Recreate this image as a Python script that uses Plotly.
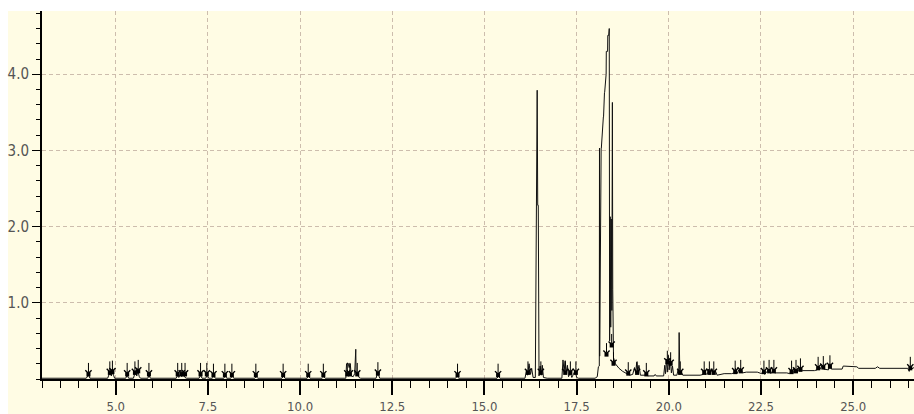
import plotly.graph_objects as go

# ---- chromatogram trace (time in min, signal) ----
time_min = [
    3.00, 4.20, 4.24, 4.27, 4.30, 4.78, 4.82, 4.85, 4.88, 4.91, 4.94, 4.97,
    5.27, 5.31, 5.35, 5.48, 5.51, 5.54, 5.57, 5.60, 5.64, 5.67, 5.87, 5.90, 5.94,
    6.64, 6.68, 6.71, 6.75, 6.79, 6.84, 6.88, 6.92, 7.26, 7.30, 7.34, 7.44, 7.48,
    7.52, 7.62, 7.66, 7.70, 7.93, 7.97, 8.01, 8.12, 8.16, 8.20, 8.77, 8.81, 8.85,
    9.51, 9.55, 9.59, 10.19, 10.23, 10.27, 10.60, 10.64, 10.68, 11.24, 11.26,
    11.30, 11.33, 11.36, 11.39, 11.44, 11.48, 11.51, 11.52, 11.56, 11.60, 11.64,
    12.06, 12.09, 12.13, 12.16, 14.22, 14.26, 14.30, 15.34, 15.38, 15.42,
    16.10, 16.14, 16.17, 16.21, 16.25, 16.28, 16.32, 16.38, 16.405, 16.41, 16.43,
    16.445, 16.46, 16.48, 16.51, 16.54, 16.57, 16.60, 16.70, 17.10, 17.13, 17.16,
    17.19, 17.22, 17.25, 17.28, 17.33, 17.37, 17.42, 17.46, 17.50, 17.55, 18.00,
    18.06, 18.09, 18.115, 18.12, 18.125, 18.165, 18.17, 18.225, 18.23, 18.255,
    18.26, 18.30, 18.305, 18.34, 18.345, 18.37, 18.375, 18.385, 18.395, 18.41,
    18.425, 18.44, 18.455, 18.47, 18.48, 18.50, 18.55, 18.65, 18.75, 18.86,
    18.90, 18.94, 19.02, 19.07, 19.10, 19.13, 19.16, 19.19, 19.23, 19.35, 19.39,
    19.43, 19.60, 19.63, 19.66, 19.86, 19.89, 19.91, 19.94, 19.96, 19.99, 20.01,
    20.04, 20.07, 20.10, 20.13, 20.22, 20.25, 20.27, 20.28, 20.30, 20.33, 20.38,
    20.85, 20.93, 20.96, 20.99, 21.05, 21.08, 21.11, 21.16, 21.20, 21.26, 21.31,
    21.50, 21.70, 21.78, 21.81, 21.85, 21.90, 21.95, 22.00, 22.10, 22.40, 22.52,
    22.56, 22.60, 22.68, 22.72, 22.77, 22.83, 22.87, 23.20, 23.28, 23.32, 23.36,
    23.42, 23.46, 23.53, 23.57, 23.62, 23.95, 24.02, 24.05, 24.09, 24.16, 24.20,
    24.33, 24.37, 24.41, 24.70, 24.73, 25.10, 25.15, 25.60, 25.66, 25.72, 26.48,
    26.52, 26.55, 26.58, 26.65,
]
signal = [
    0.01, 0.01, 0.04, 0.05, 0.01, 0.01, 0.06, 0.08, 0.04, 0.09, 0.05, 0.01,
    0.01, 0.05, 0.01, 0.01, 0.06, 0.09, 0.04, 0.10, 0.03, 0.01, 0.01, 0.05, 0.01,
    0.01, 0.05, 0.02, 0.06, 0.03, 0.06, 0.02, 0.01, 0.01, 0.05, 0.01, 0.01, 0.05,
    0.01, 0.01, 0.04, 0.01, 0.01, 0.04, 0.01, 0.01, 0.04, 0.01, 0.01, 0.03, 0.01,
    0.01, 0.04, 0.01, 0.01, 0.04, 0.01, 0.01, 0.03, 0.01, 0.01, 0.20,
    0.21, 0.15, 0.20, 0.04, 0.03, 0.07, 0.39, 0.06, 0.07, 0.02, 0.01,
    0.01, 0.06, 0.05, 0.01, 0.01, 0.04, 0.01, 0.01, 0.04, 0.01,
    0.01, 0.12, 0.05, 0.20, 0.06, 0.14, 0.02, 0.02, 3.03, 2.20, 3.79,
    2.28, 2.28, 0.04, 0.17, 0.05, 0.18, 0.02, 0.01, 0.01, 0.25, 0.10,
    0.24, 0.08, 0.18, 0.03, 0.08, 0.02, 0.06, 0.11, 0.02, 0.01, 0.01,
    0.03, 0.16, 0.17, 3.03, 0.30, 3.03, 3.03, 3.44, 3.44, 3.76,
    3.76, 4.00, 4.30, 4.30, 4.51, 4.51, 4.60, 4.60, 0.50, 2.13,
    0.68, 2.10, 0.90, 3.63, 1.17, 0.28, 0.20, 0.14, 0.10, 0.07,
    0.09, 0.05, 0.06, 0.15, 0.08, 0.22, 0.10, 0.18, 0.05, 0.05, 0.08,
    0.04, 0.04, 0.06, 0.04, 0.04, 0.18, 0.07, 0.26, 0.09, 0.31, 0.12,
    0.27, 0.08, 0.17, 0.05, 0.05, 0.12, 0.06, 0.61, 0.06, 0.10, 0.05,
    0.05, 0.06, 0.12, 0.06, 0.07, 0.13, 0.06, 0.12, 0.06, 0.11, 0.05,
    0.07, 0.07, 0.08, 0.14, 0.07, 0.12, 0.14, 0.08, 0.09, 0.09, 0.07,
    0.12, 0.06, 0.11, 0.13, 0.07, 0.12, 0.08, 0.08, 0.07, 0.12, 0.07,
    0.13, 0.08, 0.12, 0.15, 0.11, 0.11, 0.12, 0.17, 0.12, 0.18, 0.13,
    0.12, 0.20, 0.13, 0.13, 0.17, 0.16, 0.14, 0.14, 0.16, 0.14, 0.14,
    0.10, 0.16, 0.13, 0.15,
]

# ---- detected peak markers (arrow tips) ----
peak_x = [4.26, 4.84, 4.91, 5.31, 5.52, 5.61, 5.90, 6.68, 6.79, 6.88, 7.30, 7.47,
          7.65, 7.96, 8.15, 8.80, 9.54, 10.22, 10.63, 11.28, 11.35, 11.55, 12.11,
          14.27, 15.37, 16.18, 16.53, 17.19, 17.33, 17.48, 18.31, 18.45, 18.50,
          18.90, 19.14, 19.39, 19.96, 20.05, 20.31, 20.96, 21.10, 21.22, 21.80,
          21.95, 22.58, 22.72, 22.85, 23.33, 23.45, 23.57, 24.05, 24.19, 24.37,
          26.55]
peak_y = [0.06, 0.08, 0.09, 0.06, 0.08, 0.10, 0.06, 0.06, 0.06, 0.06, 0.06, 0.06,
          0.05, 0.05, 0.05, 0.05, 0.05, 0.05, 0.05, 0.06, 0.06, 0.06, 0.07,
          0.05, 0.05, 0.08, 0.08, 0.08, 0.08, 0.08, 0.32, 0.44, 0.20,
          0.07, 0.08, 0.06, 0.22, 0.20, 0.08, 0.08, 0.08, 0.08, 0.09,
          0.10, 0.09, 0.10, 0.10, 0.09, 0.10, 0.12, 0.14, 0.15, 0.16,
          0.14]

x_tick_vals = [5.0, 7.5, 10.0, 12.5, 15.0, 17.5, 20.0, 22.5, 25.0]
x_tick_text = ["5.0", "7.5", "10.0", "12.5", "15.0", "17.5", "20.0", "22.5", "25.0"]
y_tick_vals = [1.0, 2.0, 3.0, 4.0]
y_tick_text = ["1.0", "2.0", "3.0", "4.0"]

CREAM = "#FFFCE4"
GRID = "#CDBDAD"
LABEL = "#555555"
FONT = "Liberation Sans Narrow, DejaVu Sans Condensed, Liberation Sans, sans-serif"

fig = go.Figure()
fig.add_trace(go.Scatter(
    x=time_min, y=signal, mode="lines",
    line=dict(color="#111111", width=1), hoverinfo="skip", showlegend=False,
))
fig.add_trace(go.Scatter(
    x=peak_x, y=peak_y, mode="markers",
    marker=dict(symbol="square", size=4, color="black"),
    hoverinfo="skip", showlegend=False,
))

annotations = [
    dict(x=px, y=py, xref="x", yref="y", ax=0, ay=-13, axref="pixel", ayref="pixel",
         showarrow=True, arrowhead=4, arrowsize=1.2, arrowwidth=1, arrowcolor="black",
         text="")
    for px, py in zip(peak_x, peak_y)
]

W, H = 914, 414
L, R, T, B = 42, 0, 11, 35
pw, ph = W - L - R, H - T - B

fig.update_layout(
    width=W, height=H,
    margin=dict(l=L, r=R, t=T, b=B, autoexpand=False),
    paper_bgcolor="white",
    plot_bgcolor=CREAM,
    annotations=annotations,
    shapes=[dict(type="rect", xref="paper", yref="paper",
                 x0=-(L - 8) / pw, x1=1, y0=-B / ph, y1=1,
                 fillcolor=CREAM, line=dict(width=0), layer="below")],
    xaxis=dict(
        range=[3.0, 26.65], tickvals=x_tick_vals, ticktext=x_tick_text,
        automargin=False,
        ticks="outside", ticklen=14, tickwidth=2, tickcolor="black",
        showline=True, linecolor="black", linewidth=2,
        showgrid=True, gridcolor=GRID, gridwidth=1, griddash="4px,3px",
        zeroline=False,
        tickfont=dict(family=FONT, size=13, color=LABEL),
        minor=dict(dtick=0.5, tick0=0, ticks="outside", ticklen=7, tickwidth=1,
                   tickcolor="black", showgrid=False),
    ),
    yaxis=dict(
        range=[0, 4.83], tickvals=y_tick_vals, ticktext=y_tick_text,
        automargin=False,
        ticks="outside", ticklen=8, tickwidth=1, tickcolor="black",
        showline=True, linecolor="black", linewidth=2,
        showgrid=True, gridcolor=GRID, gridwidth=1, griddash="4px,3px",
        zeroline=False,
        tickfont=dict(family=FONT, size=15, color=LABEL),
        minor=dict(dtick=0.2, tick0=0, ticks="outside", ticklen=4, tickwidth=1,
                   tickcolor="black", showgrid=False),
    ),
)

fig.write_html("out.html", config={"displayModeBar": False})

# remove the browser's default page margin so the figure sits at (0, 0)
with open("out.html", "r", encoding="utf-8") as f:
    html = f.read()
html = html.replace("<head>", "<head><style>html,body{margin:0;padding:0;overflow:hidden;}</style>", 1)
with open("out.html", "w", encoding="utf-8") as f:
    f.write(html)
